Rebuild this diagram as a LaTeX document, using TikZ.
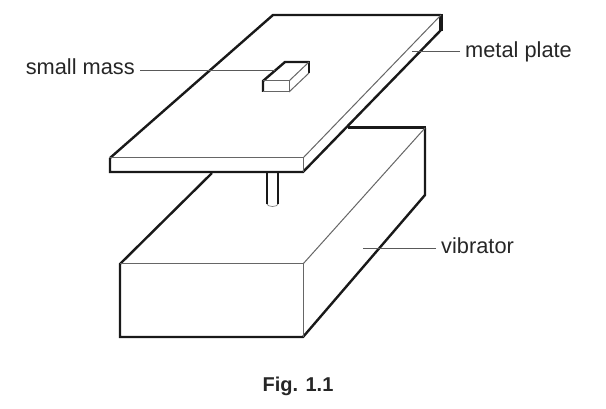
\documentclass[tikz,border=0pt]{standalone}
\usepackage{fontspec}
\setmainfont{Liberation Sans}
\tikzset{
  heavy/.style={line width=2.4pt, line join=miter, black!90},
  light/.style={line width=1pt, black!60},
  leader/.style={line width=.9pt, black!65},
  label/.style={font=\fontsize{21.8}{24}\selectfont, black!85, inner sep=5pt}
}
\begin{document}
\begin{tikzpicture}[x=1pt,y=-1pt]
  \useasboundingbox (0,0) rectangle (606,409);
  % vibrator
  \fill[white] (120,264) -- (212,173) -- (348,128) -- (425,128) -- (425,195) -- (303,337) -- (120,337) -- cycle;
  \draw[heavy] (212,173) -- (120,264) -- (120,337) -- (303,337) -- (425,195) -- (425,128);
  \draw[line width=3pt, black!90] (348,128) -- (426,128);
  \draw[light] (120,264) -- (303,264) -- (303,337);
  \draw[light] (303,264) -- (425,128);
  % pin
  \draw[line width=.7pt, black!50] (267,204) arc [start angle=180, end angle=360, x radius=5.5, y radius=-2.5];
  \draw[heavy] (267,172) -- (267,204);
  \draw[heavy] (278,172) -- (278,204);
  % plate
  \fill[white] (110,158) -- (273,15) -- (441,15) -- (441,30) -- (303,172) -- (110,172) -- cycle;
  \draw[heavy] (110,158) -- (273,15) -- (441,15);
  \draw[heavy] (110,158) -- (110,172) -- (303,172) -- (441,30);
  \draw[line width=3.2pt, black!90] (441,14) -- (441,31);
  \draw[light] (110,158) -- (303,158) -- (303,172);
  \draw[light] (303,158) -- (441,15);
  % small mass
  \fill[white] (263,81) -- (285,62) -- (309,62) -- (309,73) -- (289,92) -- (263,92) -- cycle;
  \draw[heavy] (263,92) -- (263,81) -- (285,62) -- (309,62);
  \draw[line width=2.8pt, black!90] (309,61) -- (309,73);
  \draw[light] (263,81) -- (289,81) -- (289,92) -- (263,92);
  \draw[light] (289,81) -- (309,62);
  \draw[light] (289,92) -- (309,73);
  % labels
  \node[label, anchor=base east] (smallmass) at (140,75) {small mass};
  \node[label, anchor=base west] (metalplate) at (460,58) {metal plate};
  \node[label, anchor=base west] (vibrator) at (436,254) {vibrator};
  \node[font=\fontsize{20}{23}\selectfont\bfseries, black!85, anchor=base] (figlabel) at (298,391) {Fig. 1.1};
  \coordinate (massend) at (275,70);
  \coordinate (plateend) at (412,51);
  \coordinate (vibratorend) at (363,248);
  \draw[leader] (smallmass.east |- massend) -- (massend);
  \draw[leader] (metalplate.west |- plateend) -- (plateend);
  \draw[leader] (vibrator.west |- vibratorend) -- (vibratorend);
\end{tikzpicture}
\end{document}
